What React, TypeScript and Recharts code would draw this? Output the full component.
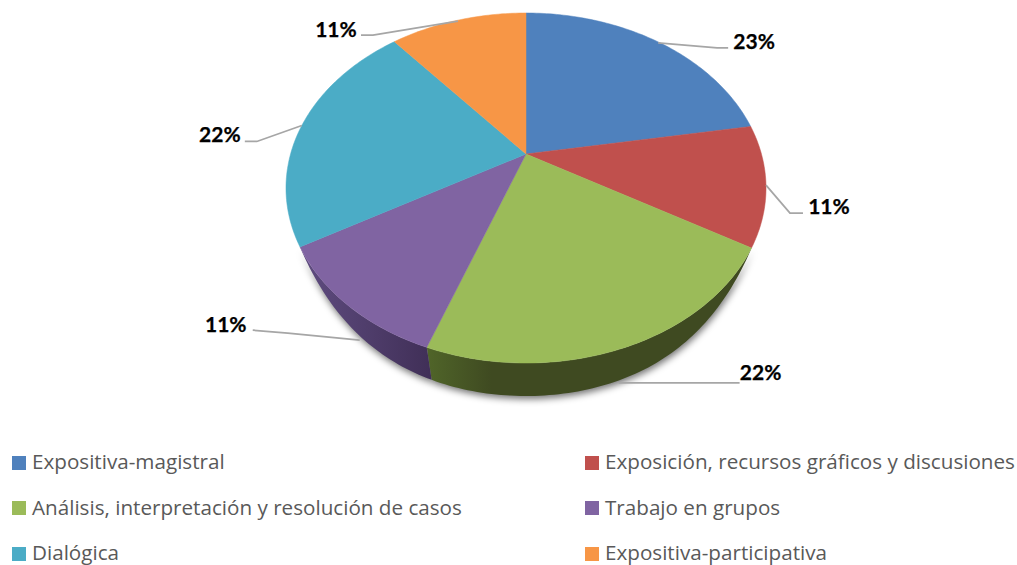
import { Legend, Pie, PieChart } from "recharts";

const categories = [
  "Expositiva-magistral",
  "Exposición, recursos gráficos y discusiones",
  "Análisis, interpretación y resolución de casos",
  "Trabajo en grupos",
  "Dialógica",
  "Expositiva-participativa",
];
const values = [22.3, 11.1, 22.2, 11.1, 22.2, 11.1];
const percentLabels = ["23%", "11%", "22%", "11%", "22%", "11%"];
const colors = ["#4f81bd", "#c0504d", "#9bbb59", "#8064a2", "#4bacc6", "#f79646"];
const wallFills = ["#2a4365", "#662a28", "url(#wallGreen)", "url(#wallPurple)", "#285b69", "#834f25"];

const tableData = categories.map((name, i) => ({
  name,
  value: values[i],
  fill: colors[i],
  wall: wallFills[i],
}));

// leader lines, relative to the point on the pie edge: [start shift, elbow, end, text centre]
const leaders = [
  { start: [0, 1], elbow: [59, 6], end: [70, 6], text: [96, -1] },
  { start: [0, 0], elbow: [24, 28], end: [37, 28], text: [63, 20] },
  { start: [-5, 35], elbow: [60, 35], end: [116, 35], text: [137, 24] },
  { start: [12, 35], elbow: [-60, 28], end: [-95, 25], text: [-122, 18] },
  { start: [0, 0], elbow: [-45, 16], end: [-57, 16], text: [-82, 8] },
  { start: [0, 1], elbow: [-85, 15], end: [-97, 15], text: [-122, 8] },
];

const WIDTH = 1017;
const HEIGHT = 565;
const CX = 526;
const CY = 154;
const RADIUS = 240;
const TILT = 0.1943;
const SCALE_X = 0.981;
const SCALE_Y = 0.7017;
const WALL_DEPTH = 33;
const WALL_FROM = -150;
const WALL_TO = -30;

const rad = (deg: number) => (deg * Math.PI) / 180;

// perspective view of a flat circle: the far side is squeezed, the near side grows
const project = (cx: number, cy: number, r: number, angle: number) => {
  const u = Math.cos(rad(angle));
  const v = Math.sin(rad(angle));
  const d = 1 + TILT * v;
  return [cx + (r * SCALE_X * u) / d, cy - (r * SCALE_Y * v) / d];
};

const projectBottom = (cx: number, cy: number, r: number, angle: number) => {
  const [x, y] = project(cx, cy, r, angle);
  const t = Math.max(0, (-Math.sin(rad(angle)) - 0.5) / 0.5);
  const depth = WALL_DEPTH * Math.pow(Math.sin((t * Math.PI) / 2), 0.8);
  return [cx + (x - cx) * (1 - (0.05 * depth) / WALL_DEPTH), y + depth];
};

const arcPoints = (from: number, to: number, fn: (a: number) => number[]) => {
  const steps = Math.max(2, Math.ceil(Math.abs(to - from)));
  const pts: number[][] = [];
  for (let i = 0; i <= steps; i++) pts.push(fn(from + ((to - from) * i) / steps));
  return pts;
};

const toPath = (pts: number[][]) =>
  pts.map((p, i) => `${i ? "L" : "M"}${p[0].toFixed(2)} ${p[1].toFixed(2)}`).join(" ") + " Z";

const wallPath = (props: any) => {
  const { cx, cy, outerRadius, startAngle, endAngle } = props;
  const from = Math.min(startAngle, WALL_TO);
  const to = Math.max(endAngle, WALL_FROM);
  if (from <= to) return null;
  const top = arcPoints(from, to, (a) => project(cx, cy, outerRadius, a));
  const bottom = arcPoints(to, from, (a) => projectBottom(cx, cy, outerRadius, a));
  return toPath([...top, ...bottom]);
};

const SliceShape = (props: any) => {
  const { cx, cy, outerRadius, startAngle, endAngle, fill, wall } = props;
  const edge = arcPoints(startAngle, endAngle, (a) => project(cx, cy, outerRadius, a));
  const wallD = wallPath(props);
  return (
    <g>
      {wallD && <path d={wallD} fill={wall} stroke="none" />}
      <path d={toPath([[cx, cy], ...edge])} fill={fill} stroke={fill} strokeWidth={0.5} />
    </g>
  );
};

const ShadowShape = (props: any) => {
  const wallD = wallPath(props);
  if (!wallD) return <g />;
  return <path d={wallD} fill="#000" fillOpacity={0.55} filter="url(#pieShadow)" />;
};

const renderLabel = (props: any) => {
  const { cx, cy, outerRadius, midAngle, index } = props;
  const [x, y] = project(cx, cy, outerRadius, midAngle);
  const l = leaders[index];
  return (
    <g key={index}>
      <polyline
        points={`${x + l.start[0]},${y + l.start[1]} ${x + l.elbow[0]},${y + l.elbow[1]} ${x + l.end[0]},${y + l.end[1]}`}
        fill="none"
        stroke="#a6a6a6"
        strokeWidth={1.75}
      />
      <text
        x={x + l.text[0]}
        y={y + l.text[1]}
        textAnchor="middle"
        dominantBaseline="central"
        fontFamily="Lato"
        fontWeight={700}
        fontSize={21}
        fill="#000"
        stroke="#000"
        strokeWidth={0.25}
      >
        {percentLabels[index]}
      </text>
    </g>
  );
};

const LegendGrid = ({ payload }: any) => {
  const items = (payload || []).filter((p: any) => p.type !== "none").slice(0, 6);
  return (
    <div style={{ display: "grid", gridTemplateColumns: "573px 1fr", rowGap: 0 }}>
      {items.map((item: any) => (
        <div key={item.value} style={{ display: "flex", alignItems: "center", height: 45.5 }}>
          <span style={{ width: 14, height: 14, marginRight: 6, background: item.color, flex: "none" }} />
          <span
            style={{
              position: "relative",
              top: -1.5,
              fontFamily: "Open Sans",
              fontSize: 20.65,
              color: "#595959",
              whiteSpace: "nowrap",
            }}
          >
            {item.value}
          </span>
        </div>
      ))}
    </div>
  );
};

export default function App() {
  return (
    <div style={{ position: "absolute", left: 0, top: 0, width: WIDTH, height: HEIGHT, background: "#fff" }}>
      <PieChart width={WIDTH} height={HEIGHT} margin={{ top: 0, right: 0, bottom: 0, left: 0 }}>
        <defs>
          <linearGradient id="wallGreen" x1="0" y1="0" x2="1" y2="0">
            <stop offset="0" stopColor="#506529" />
            <stop offset="0.2" stopColor="#3f4a21" />
            <stop offset="1" stopColor="#3f4a21" />
          </linearGradient>
          <linearGradient id="wallPurple" x1="0" y1="0" x2="1" y2="0">
            <stop offset="0" stopColor="#5f4c80" />
            <stop offset="1" stopColor="#402f57" />
          </linearGradient>
          <filter id="pieShadow" x="-20%" y="-20%" width="140%" height="150%">
            <feGaussianBlur stdDeviation="3.5" />
            <feOffset dx="1" dy="3" />
          </filter>
        </defs>
        <Pie
          data={tableData}
          dataKey="value"
          nameKey="name"
          cx={CX}
          cy={CY}
          outerRadius={RADIUS}
          startAngle={90}
          endAngle={-270}
          legendType="none"
          shape={ShadowShape}
          stroke="none"
          isAnimationActive={false}
        />
        <Pie
          data={tableData}
          dataKey="value"
          nameKey="name"
          cx={CX}
          cy={CY}
          outerRadius={RADIUS}
          startAngle={90}
          endAngle={-270}
          shape={SliceShape}
          label={renderLabel}
          labelLine={false}
          stroke="none"
          isAnimationActive={false}
        />
        <Legend
          content={<LegendGrid />}
          itemSorter={null}
          wrapperStyle={{ left: 12, top: 440, width: 1005, height: 125 }}
        />
      </PieChart>
    </div>
  );
}
